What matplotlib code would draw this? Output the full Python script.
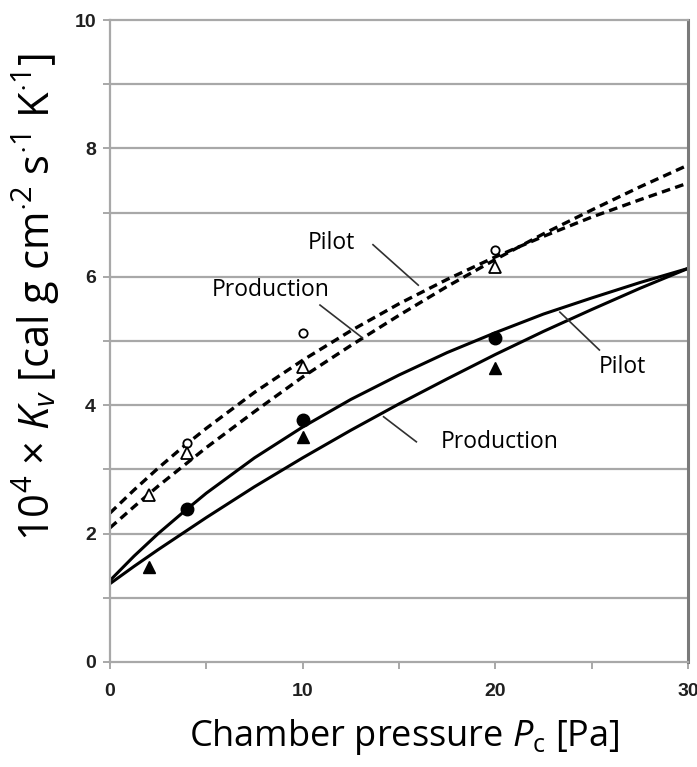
import numpy as np
import matplotlib
matplotlib.use("Agg")
import matplotlib.pyplot as plt

# chamber pressure grid for the fitted curves [Pa]
pc_fit = [0, 1.25, 2.5, 3.75, 5, 7.5, 10, 12.5, 15, 17.5, 20, 22.5, 25, 27.5, 30]

# fitted Kv curves (x 1e-4)
kv_pilot_dash = [2.32, 2.68, 3.02, 3.34, 3.64, 4.20, 4.70, 5.16, 5.58, 5.96, 6.31, 6.63, 6.93, 7.20, 7.46]
kv_prod_dash = [2.09, 2.42, 2.74, 3.04, 3.34, 3.90, 4.44, 4.93, 5.40, 5.85, 6.27, 6.67, 7.04, 7.40, 7.74]
kv_pilot_solid = [1.27, 1.65, 2.00, 2.32, 2.63, 3.18, 3.66, 4.09, 4.47, 4.82, 5.13, 5.42, 5.67, 5.91, 6.13]
kv_prod_solid = [1.22, 1.49, 1.75, 2.00, 2.25, 2.73, 3.18, 3.61, 4.02, 4.41, 4.79, 5.15, 5.49, 5.82, 6.13]

# measured points
pc_pilot_open = [4, 10, 20]
kv_pilot_open = [3.41, 5.12, 6.42]
pc_prod_open = [2, 4, 10, 20]
kv_prod_open = [2.60, 3.26, 4.60, 6.15]
pc_pilot_fill = [4, 10, 20]
kv_pilot_fill = [2.38, 3.77, 5.05]
pc_prod_fill = [2, 10, 20]
kv_prod_fill = [1.48, 3.50, 4.58]

xticks = [0, 10, 20, 30]
xtick_labels = ['0', '10', '20', '30']
yticks = [0, 2, 4, 6, 8, 10]
ytick_labels = ['0', '2', '4', '6', '8', '10']

plt.rcParams['font.family'] = ['Open Sans', 'DejaVu Sans']
plt.rcParams['mathtext.fontset'] = 'custom'
plt.rcParams['mathtext.rm'] = 'Open Sans'
plt.rcParams['mathtext.it'] = 'Open Sans:italic'

fig = plt.figure(figsize=(6.97, 7.67), dpi=100)
ax = fig.add_axes([0.1578, 0.1369, 0.8293, 0.837])

grid_col = '#a8a8a8'
for yv in range(1, 10):
    ax.axhline(yv, color=grid_col, lw=1.6, zorder=0)

dash = (0, (2.6, 1.6))
ax.plot(pc_fit, kv_pilot_dash, color='black', lw=2.4, linestyle=dash, zorder=2)
ax.plot(pc_fit, kv_prod_dash, color='black', lw=2.4, linestyle=dash, zorder=2)
ax.plot(pc_fit, kv_pilot_solid, color='black', lw=2.2, zorder=2)
ax.plot(pc_fit, kv_prod_solid, color='black', lw=2.2, zorder=2)

ax.plot(pc_pilot_open, kv_pilot_open, 'o', ms=6, mfc='white', mec='black', mew=1.3, zorder=3)
ax.plot(pc_prod_open, kv_prod_open, '^', ms=8, mfc='white', mec='black', mew=1.3, zorder=3)
ax.plot(pc_pilot_fill, kv_pilot_fill, 'o', ms=9, color='black', zorder=3)
ax.plot(pc_prod_fill, kv_prod_fill, '^', ms=8, color='black', zorder=3)

# curve labels with leader lines
lead = dict(color='#303030', lw=1.2)
fs_lab = 16.5
ax.text(11.47, 6.53, 'Pilot', fontsize=fs_lab, ha='center', va='center')
ax.plot([13.65, 16.0], [6.5, 5.87], **lead)
ax.text(8.35, 5.79, 'Production', fontsize=fs_lab, ha='center', va='center')
ax.plot([10.9, 13.1], [5.56, 5.05], **lead)
ax.text(26.6, 4.6, 'Pilot', fontsize=fs_lab, ha='center', va='center')
ax.plot([25.4, 23.35], [4.86, 5.45], **lead)
ax.text(20.2, 3.43, 'Production', fontsize=fs_lab, ha='center', va='center')
ax.plot([15.9, 14.2], [3.43, 3.82], **lead)

ax.set_xlim(0, 30)
ax.set_ylim(0, 10)
tick_font = dict(family='Liberation Sans', fontweight='bold', fontsize=14, color='#202020')
ax.set_xticks(xticks, xtick_labels, **tick_font)
ax.set_xticks([5, 15, 25], minor=True)
ax.set_yticks(yticks, ytick_labels, **tick_font)
ax.set_yticks([1, 3, 5, 7, 9], minor=True)
ax.tick_params(which='both', direction='out', length=5, width=1.4, color=grid_col)
ax.tick_params(axis='x', pad=10)
ax.tick_params(axis='y', pad=5)

for side in ['left', 'top', 'bottom']:
    ax.spines[side].set_color(grid_col)
    ax.spines[side].set_linewidth(1.6)
ax.spines['right'].set_color('#7a7a7a')
ax.spines['right'].set_linewidth(2.2)

ax.set_xlabel(r'Chamber pressure $P_\mathrm{c}$ [Pa]', fontsize=26)
ax.xaxis.set_label_coords(0.51, -0.085)
ax.set_ylabel(r'10$^4$ $\times$ $K_v$ [cal g cm$^{\cdot 2}$ s$^{\cdot 1}$ K$^{\cdot 1}$]',
              fontsize=30)
ax.yaxis.set_label_coords(-0.083, 0.569)

fig.savefig('out.png', dpi=100)
